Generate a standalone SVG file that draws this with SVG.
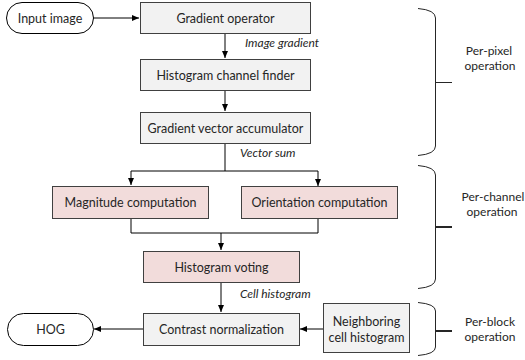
<svg xmlns="http://www.w3.org/2000/svg" width="525" height="360" viewBox="0 0 525 360">
<defs>
<marker id="ah" markerWidth="8" markerHeight="8" refX="7" refY="4" orient="auto" markerUnits="userSpaceOnUse">
<path d="M0,1 L7,4 L0,7 Z" fill="#000"/>
</marker>
<style>
.g{fill:#f2f2f2;stroke:#404040;stroke-width:1}
.p{fill:#f2dcdb;stroke:#404040;stroke-width:1}
.t{fill:#fff;stroke:#000;stroke-width:1}
text{font-family:Lato,"Liberation Sans",sans-serif;font-size:12.5px;fill:#262626;text-anchor:middle}
.i{font-style:italic;font-size:12px;text-anchor:start}
.s{font-size:12px}
.c{fill:none;stroke:#000;stroke-width:1}
.a{marker-end:url(#ah)}
.b{fill:none;stroke:#262626;stroke-width:1}
</style>
</defs>
<g id="connectors">
<path class="c a" d="M93,18 H139"/>
<path class="c a" d="M225,33 V58"/>
<path class="c a" d="M225,90 V111"/>
<path class="c" d="M225,143 V171 M131,171 H318"/>
<path class="c a" d="M131,171 V185"/>
<path class="c a" d="M318,171 V186"/>
<path class="c" d="M131,218 V233 H318 V218"/>
<path class="c a" d="M221,233 V250"/>
<path class="c a" d="M221,282 V312"/>
<path class="c a" d="M143,329 H94"/>
<path class="c a" d="M323,329 H300"/>
<text class="i" x="245" y="47">Image gradient</text>
<text class="i" x="240" y="157">Vector sum</text>
<text class="i" x="240" y="298">Cell histogram</text>
</g>
<g id="input"><rect class="t" x="6.5" y="2.5" width="87" height="31" rx="15.5"/><text x="50" y="22.5">Input image</text></g>
<g id="gradop"><rect class="g" x="140.5" y="2.5" width="170" height="31"/><text x="225.5" y="22.5">Gradient operator</text></g>
<g id="histfind"><rect class="g" x="140.5" y="59.5" width="170" height="31"/><text x="225.5" y="79.5">Histogram channel finder</text></g>
<g id="accum"><rect class="g" x="140.5" y="112.5" width="170" height="31"/><text x="225.5" y="132.5">Gradient vector accumulator</text></g>
<g id="mag"><rect class="p" x="52.5" y="186.5" width="156" height="32"/><text x="130.5" y="207">Magnitude computation</text></g>
<g id="orient"><rect class="p" x="241.5" y="186.5" width="156" height="32"/><text x="319.5" y="207">Orientation computation</text></g>
<g id="vote"><rect class="p" x="143.5" y="251.5" width="156" height="31"/><text x="221.5" y="271.5">Histogram voting</text></g>
<g id="contrast"><rect class="g" x="143.5" y="313.5" width="156" height="32"/><text x="221.5" y="334">Contrast normalization</text></g>
<g id="hog"><rect class="t" x="7.5" y="313.5" width="86" height="32" rx="16"/><text x="50.5" y="334">HOG</text></g>
<g id="neighbor"><rect class="g" x="323.5" y="303.5" width="86" height="49"/><text x="366.5" y="326">Neighboring</text><text x="366.5" y="342">cell histogram</text></g>
<g id="brace-pixel">
<path class="b" d="M418,8.5 Q435.5,10 435.5,18 V146 Q435.5,154 418,155.5"/>
<path class="b" d="M435.5,82.5 H452"/>
<text class="s" x="489" y="55">Per-pixel</text><text class="s" x="490" y="70">operation</text>
</g>
<g id="brace-channel">
<path class="b" d="M418,165.5 Q435.5,167 435.5,175 V279 Q435.5,287 418,288.5"/>
<path class="b" style="stroke-width:2" d="M435.5,227 H452"/>
<text class="s" x="493" y="201">Per-channel</text><text class="s" x="492" y="216">operation</text>
</g>
<g id="brace-block">
<path class="b" d="M418,302.5 Q435.5,304 435.5,311 V347 Q435.5,354 418,355.5"/>
<path class="b" style="stroke-width:2" d="M435.5,331 H452"/>
<text class="s" x="490" y="326">Per-block</text><text class="s" x="490" y="341">operation</text>
</g>
</svg>
